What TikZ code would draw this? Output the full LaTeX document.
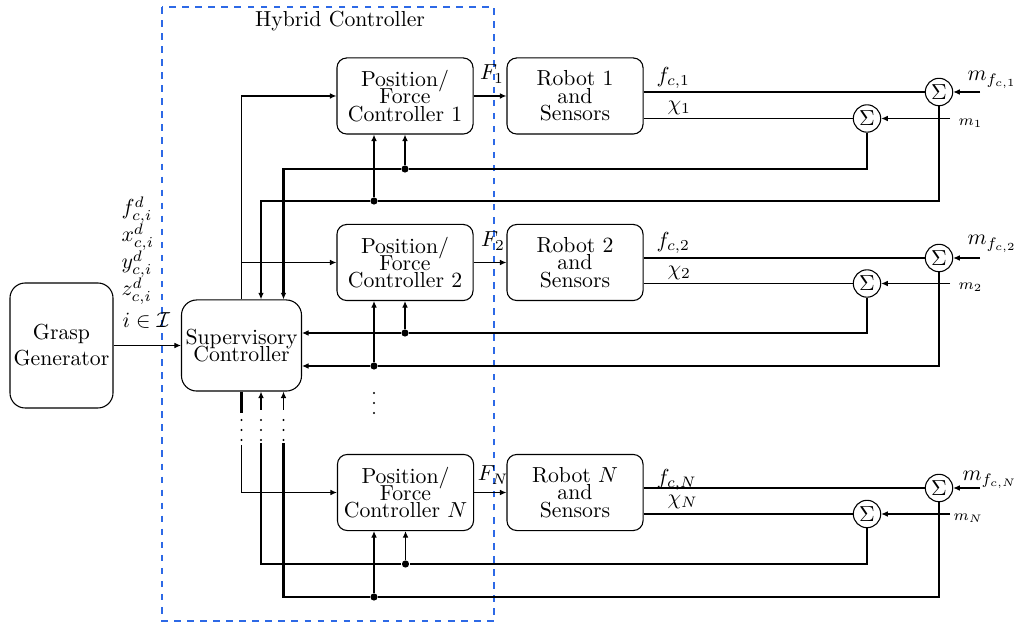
\documentclass[tikz,border=0pt]{standalone}
\usetikzlibrary{arrows.meta,calc}
\definecolor{hyb}{RGB}{45,105,230}
\begin{document}
\begin{tikzpicture}[x=0.46pt,y=-0.46pt,
  >={Latex[length=3pt,width=2.6pt]},
  every path/.style={line width=0.5pt},
  heavy/.style={line width=1.2pt},
  blockbox/.style={draw,line width=0.5pt,rounded corners=4.5pt,minimum width=62.6pt,minimum height=35pt,align=center,inner sep=0pt},
  supbox/.style={draw,line width=0.5pt,rounded corners=7pt,minimum width=55.2pt,minimum height=41.9pt,align=center,inner sep=0pt},
  grbox/.style={draw,line width=0.5pt,rounded corners=7pt,minimum width=47.4pt,minimum height=57.5pt,align=center,inner sep=0pt},
  sumnode/.style={draw,circle,line width=0.5pt,minimum size=12.6pt,inner sep=0pt},
  jdot/.style={circle,fill,inner sep=0pt,minimum size=3.3pt},
  lbl/.style={inner sep=0pt,anchor=west},
  ellipsisdot/.style={circle,fill,inner sep=0pt,minimum size=1.1pt}
]
\useasboundingbox (0,0) rectangle (1029,624);

% hybrid controller frame
\draw[hyb,dashed,line width=0.6pt] (162,7) rectangle (494,621);
\node (hybt) at (340,21) {Hybrid Controller};

% main blocks
\node[grbox] (gg) at (61.5,345.5) {Grasp\\Generator};
\node[supbox] (sc) at (241.5,345.5) {Supervisory\\[-4pt]Controller};

\node[blockbox] (c1) at (405,96) {Position/\\[-4pt]Force\\[-4pt]Controller 1};
\node[blockbox] (c2) at (405,262.5) {Position/\\[-4pt]Force\\[-4pt]Controller 2};
\node[blockbox] (cN) at (405.5,492.5) {Position/\\[-4pt]Force\\[-4pt]Controller $N$};

\node[blockbox] (r1) at (575,96) {Robot 1\\[-4pt]and\\[-4pt]Sensors};
\node[blockbox] (r2) at (575,262.5) {Robot 2\\[-4pt]and\\[-4pt]Sensors};
\node[blockbox] (rN) at (575,492.5) {Robot $N$\\[-4pt]and\\[-4pt]Sensors};

% sums
\node[sumnode] (s1b) at (939,92) {$\Sigma$};
\node[sumnode] (s1s) at (867,118.5) {$\Sigma$};
\node[sumnode] (s2b) at (939,258) {$\Sigma$};
\node[sumnode] (s2s) at (867,283.5) {$\Sigma$};
\node[sumnode] (sNb) at (939,488) {$\Sigma$};
\node[sumnode] (sNs) at (867,514) {$\Sigma$};

% input labels
\node[lbl] (lf) at (121,210) {$f_{c,i}^d$};
\node[lbl] (lx) at (121,237) {$x_{c,i}^d$};
\node[lbl] (ly) at (121,264) {$y_{c,i}^d$};
\node[lbl] (lz) at (121,291) {$z_{c,i}^d$};
\node[lbl] (li) at (122,320) {$i\in\mathcal{I}$};

\draw[->] (gg.east) -- (sc.west);

% supervisory to controllers
\draw[->] (sc.north) |- (c1.west);
\draw[->] (sc.north |- c2.west) -- (c2.west);
\coordinate (bA) at (241.5,413);
\coordinate (bB) at (241.5,445);
\draw[heavy] (sc.south) -- (bA);
\draw[->] (bB) |- (cN.west);

% controller -> robot
\draw[->] (c1.east) -- (r1.west);
\draw[->] (c2.east) -- (r2.west);
\draw[->] (cN.east) -- (rN.west);
\node (F1) at (492,74) {$F_1$};
\node (F2) at (493,241) {$F_2$};
\node (FN) at (493,475) {$F_N$};

% robot outputs
\draw (r1.east |- s1b.west) -- (s1b.west);
\draw (r1.east |- s1s.west) -- (s1s.west);
\draw (r2.east |- s2b.west) -- (s2b.west);
\draw (r2.east |- s2s.west) -- (s2s.west);
\draw (rN.east |- sNb.west) -- (sNb.west);
\draw (rN.east |- sNs.west) -- (sNs.west);
\node[lbl] (lf1) at (656,78) {$f_{c,1}$};
\node[lbl] (lk1) at (667,108) {$\chi_1$};
\node[lbl] (lf2) at (656,243) {$f_{c,2}$};
\node[lbl] (lk2) at (667,273) {$\chi_2$};
\node[lbl] (lfN) at (656,480) {$f_{c,N}$};
\node[lbl] (lkN) at (667,502) {$\chi_N$};

% measurement noise inputs
\coordinate (m1b) at (980,92);
\coordinate (m1s) at (950,118.5);
\coordinate (m2b) at (980,258);
\coordinate (m2s) at (950,283.5);
\coordinate (mNb) at (980,488);
\coordinate (mNs) at (950,514);
\draw[->] (m1b) -- (s1b.east);
\draw[->] (m1s) -- (s1s.east);
\draw[->] (m2b) -- (s2b.east);
\draw[->] (m2s) -- (s2s.east);
\draw[->] (mNb) -- (sNb.east);
\draw[->] (mNs) -- (sNs.east);
\node[lbl] (lm1b) at (967,80) {$m_{f_{c,1}}$};
\node[lbl] (lm1s) at (958,123) {$\scriptstyle m_1$};
\node[lbl] (lm2b) at (967,244) {$m_{f_{c,2}}$};
\node[lbl] (lm2s) at (958,287) {$\scriptstyle m_2$};
\node[lbl] (lmNb) at (962,480) {$m_{f_{c,N}}$};
\node[lbl] (lmNs) at (953,518) {$\scriptstyle m_N$};

% feedback junctions
\coordinate (colA) at (261,0);
\coordinate (colB) at (283.5,0);
\node[jdot] (d1s) at (405,169) {};
\node[jdot] (d1b) at (374,201) {};
\node[jdot] (d2s) at (405,333) {};
\node[jdot] (d2b) at (374,366) {};
\node[jdot] (dNs) at (405.5,564) {};
\node[jdot] (dNb) at (374,597) {};

% row 1
\draw (s1s.south) |- (d1s);
\draw (s1b.south) |- (d1b);
\draw[->] (d1s) -- (d1s |- c1.south);
\draw[->] (d1b) -- (d1b |- c1.south);
\draw[heavy,->] (d1s) -| (sc.north -| colB);
\draw[heavy,->] (d1b) -| (sc.north -| colA);

% row 2
\draw (s2s.south) |- (d2s);
\draw (s2b.south) |- (d2b);
\draw[->] (d2s) -- (d2s |- c2.south);
\draw[->] (d2b) -- (d2b |- c2.south);
\draw[->] (d2s) -- (d2s -| sc.east);
\draw[->] (d2b) -- (d2b -| sc.east);

% row N
\draw (sNs.south) |- (dNs);
\draw (sNb.south) |- (dNb);
\draw[->] (dNs) -- (dNs |- cN.south);
\draw[->] (dNb) -- (dNb |- cN.south);
\coordinate (tA) at (261,443);
\coordinate (tB) at (283.5,443);
\draw[heavy] (dNs) -| (tA);
\draw[heavy] (dNb) -| (tB);
\coordinate (uA) at (261,410);
\coordinate (uB) at (283.5,410);
\draw[->] (uA) -- (sc.south -| colA);
\draw[->] (uB) -- (sc.south -| colB);

% ellipsis dots
\foreach \xx in {241.5,261,283.5}{
  \foreach \yy in {420,430,440}{
    \node[ellipsisdot] at (\xx,\yy) {};
  }
}
\foreach \yy in {393,403,413}{
  \node[ellipsisdot] at (374,\yy) {};
}
\end{tikzpicture}
\end{document}
